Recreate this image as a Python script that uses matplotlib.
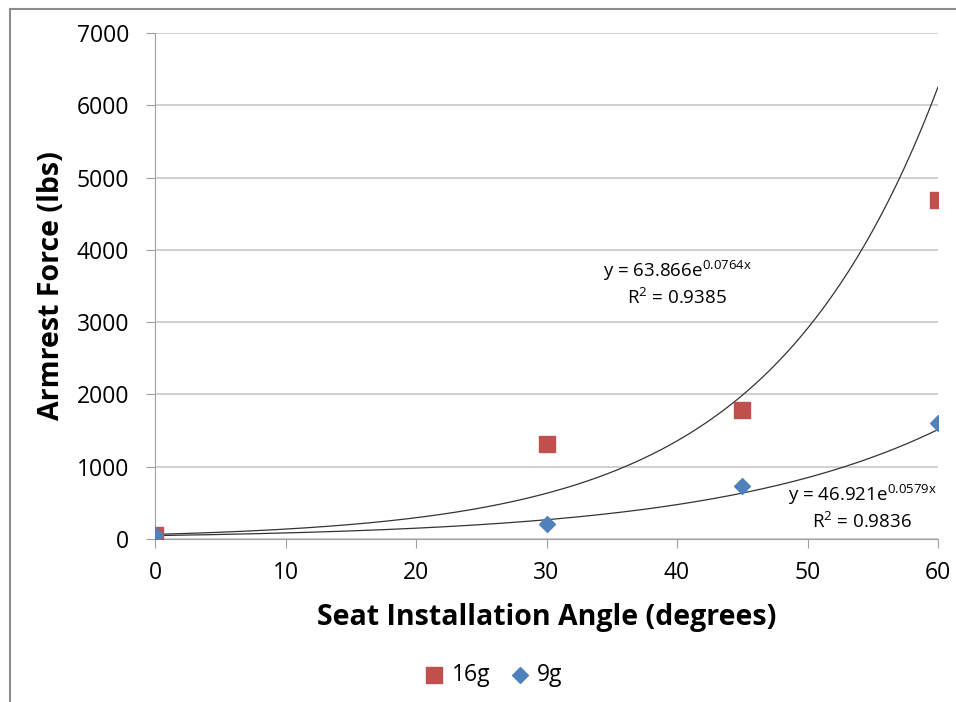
import numpy as np
import matplotlib.pyplot as plt
from matplotlib.lines import Line2D

plt.rcParams['font.family'] = ['Open Sans', 'DejaVu Sans']
plt.rcParams['mathtext.fontset'] = 'custom'
plt.rcParams['mathtext.rm'] = 'Open Sans'

angle_16g = [0, 30, 45, 60]
force_16g = [50, 1320, 1780, 4690]
angle_9g = [0, 30, 45, 60]
force_9g = [50, 210, 730, 1600]

# exponential trendline coefficients (as shown on chart)
a_16g, b_16g = 63.866, 0.0764
a_9g, b_9g = 46.921, 0.0579

xticks = [0, 10, 20, 30, 40, 50, 60]
yticks = [0, 1000, 2000, 3000, 4000, 5000, 6000, 7000]

fig = plt.figure(figsize=(9.56, 7.02), dpi=100)
ax = fig.add_axes([155 / 956, 1 - 539 / 702, (938 - 155) / 956, (539 - 33) / 702])

# chart frame (left/top border of the image)
fig.add_artist(Line2D([10 / 956, 10 / 956], [0, 1 - 9 / 702], color='#8c8c8c', lw=1.5))
fig.add_artist(Line2D([10 / 956, 1], [1 - 9 / 702, 1 - 9 / 702], color='#8c8c8c', lw=1.5))

xs = np.linspace(0, 60, 300)
ax.plot(xs, a_16g * np.exp(b_16g * xs), color='#333333', lw=0.9, zorder=3)
ax.plot(xs, a_9g * np.exp(b_9g * xs), color='#333333', lw=0.9, zorder=3)

ax.scatter(angle_16g, force_16g, marker='s', s=140, color='#c0504d', zorder=4, label='16g')
ax.scatter(angle_9g, force_9g, marker='D', s=65, color='#4f81bd', zorder=5, label='9g')

ax.set_xlim(0, 60)
ax.set_ylim(0, 7000)
ax.set_xticks(xticks)
ax.set_yticks(yticks)
ax.tick_params(axis='both', labelsize=16.5, direction='out', length=6.5, color='#a0a0a0')
ax.tick_params(axis='y', pad=12)
ax.tick_params(axis='x', pad=9)
ax.yaxis.grid(True, color='#c8c8c8', lw=1.2)
ax.set_axisbelow(True)
for s in ['top', 'right']:
    ax.spines[s].set_visible(False)
for s in ['left', 'bottom']:
    ax.spines[s].set_color('#a0a0a0')

ax.set_xlabel('Seat Installation Angle (degrees)', fontsize=20.5, fontweight='bold', va='center')
ax.set_ylabel('Armrest Force (lbs)', fontsize=20.5, fontweight='bold', va='center')
ax.xaxis.set_label_coords(0.5, (539 - 618) / 506)
ax.yaxis.set_label_coords((52 - 155) / 783, 0.5)

ax.text(40.0, 3540, 'y = 63.866e$^{0.0764\\mathrm{x}}$\nR$^2$ = 0.9385', fontsize=13.5,
        ha='center', va='center', linespacing=1.25)
ax.text(54.2, 440, 'y = 46.921e$^{0.0579\\mathrm{x}}$\nR$^2$ = 0.9836', fontsize=13.5,
        ha='center', va='center', linespacing=1.25)

ax.legend(loc='center', bbox_to_anchor=(0.433, (539 - 675) / 506), ncol=2, frameon=False,
          fontsize=16.5, handlelength=0.8, handletextpad=0.35, columnspacing=0.9,
          scatterpoints=1)

fig.savefig('out.png', dpi=100)
